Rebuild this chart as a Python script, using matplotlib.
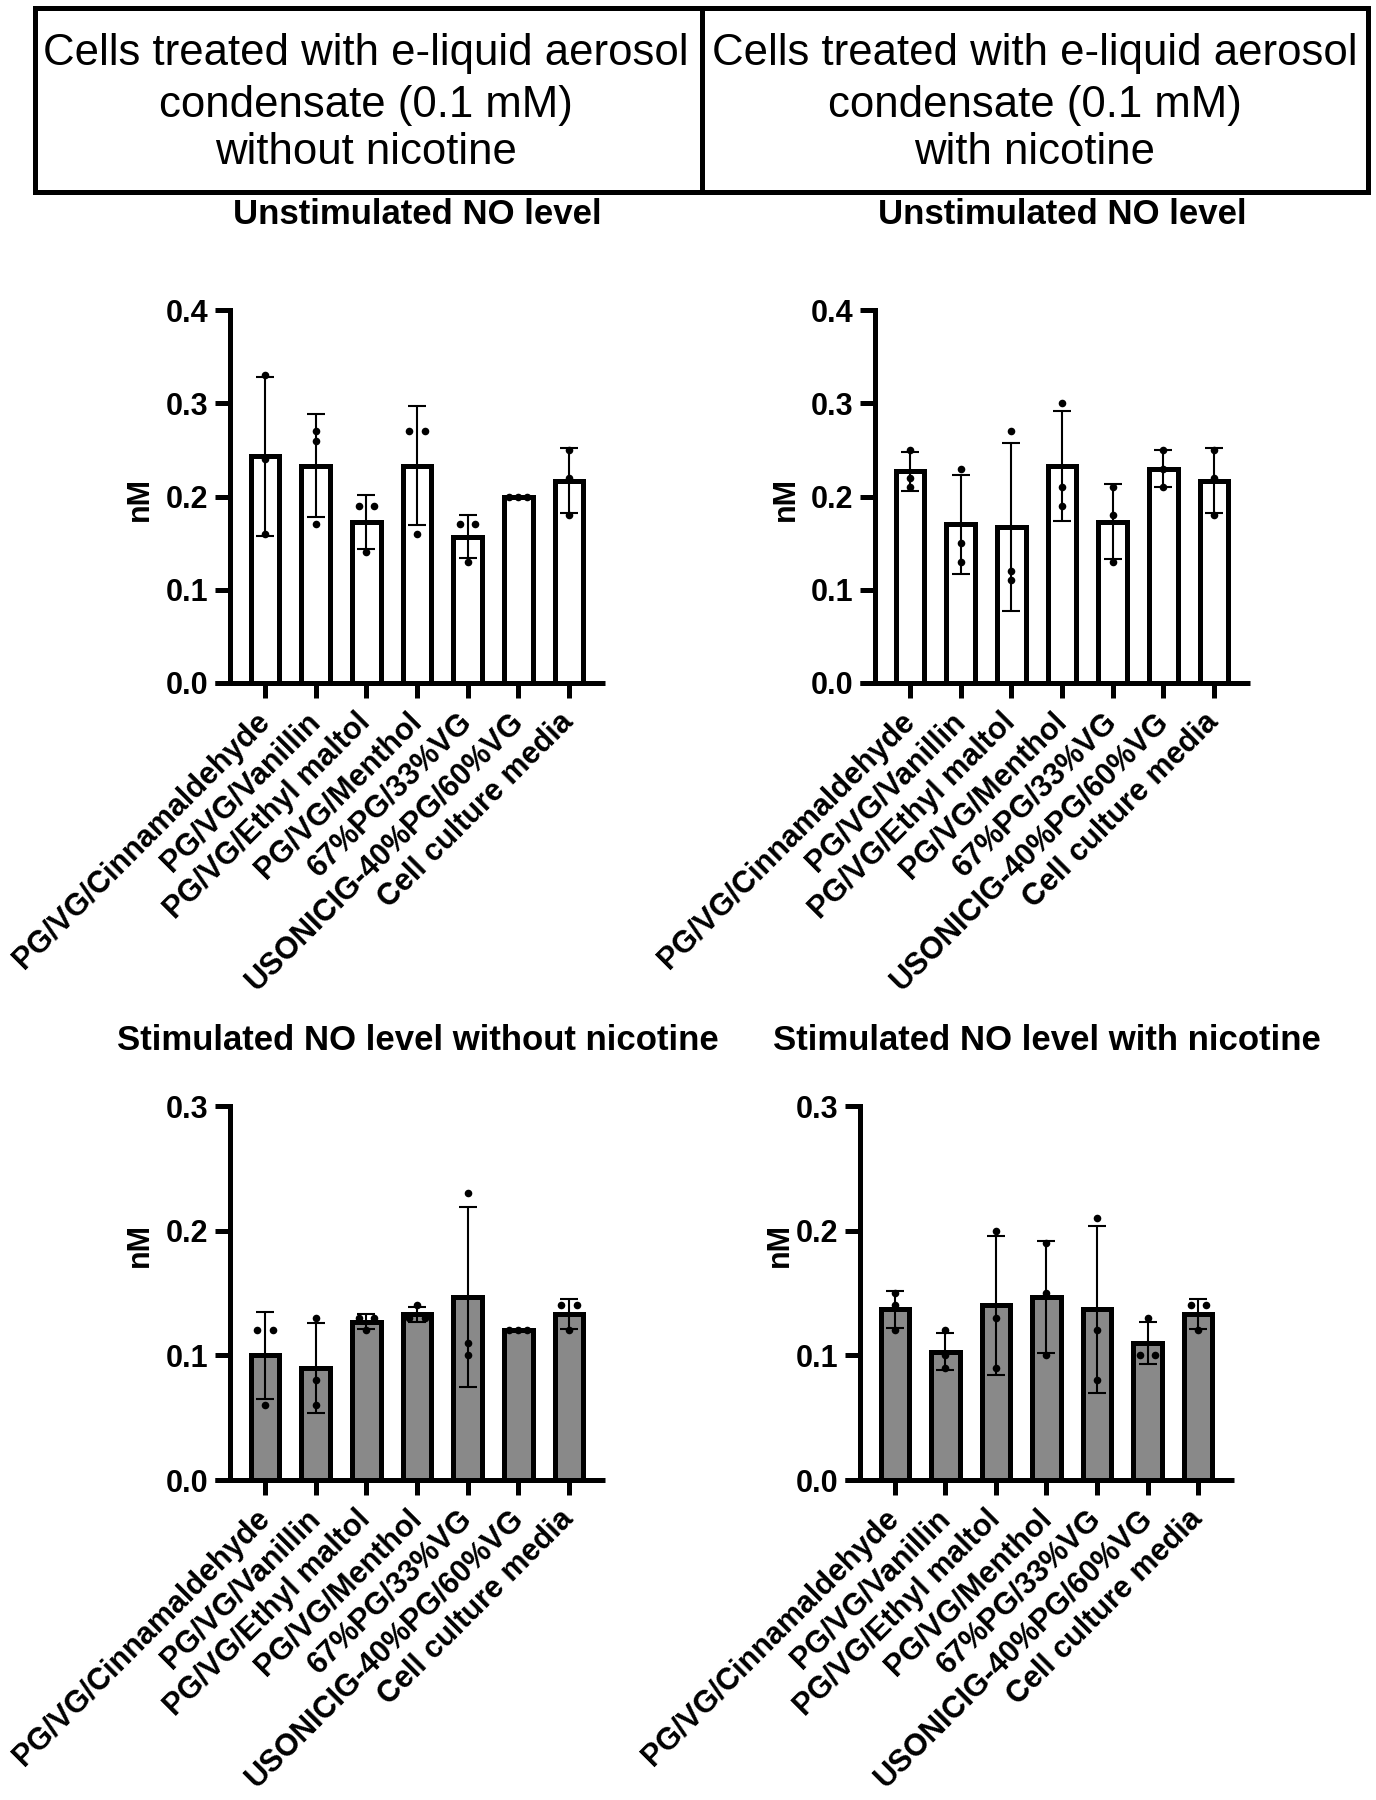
import numpy as np
import matplotlib
matplotlib.use("Agg")
import matplotlib.pyplot as plt
from matplotlib.patches import Rectangle
from matplotlib.lines import Line2D

plt.rcParams['font.family'] = ['Liberation Sans', 'DejaVu Sans']

# ---------------- data ----------------
categories = ["PG/VG/Cinnamaldehyde", "PG/VG/Vanillin", "PG/VG/Ethyl maltol",
              "PG/VG/Menthol", "67%PG/33%VG", "USONICIG-40%PG/60%VG",
              "Cell culture media"]

# Unstimulated NO level, without nicotine
unstim_no_nic_mean = [0.243, 0.233, 0.173, 0.233, 0.157, 0.200, 0.217]
unstim_no_nic_sd = [0.085, 0.055, 0.029, 0.064, 0.023, 0.0, 0.035]
unstim_no_nic_pts = [[0.33, 0.24, 0.16], [0.27, 0.26, 0.17], [0.19, 0.19, 0.14],
                     [0.27, 0.27, 0.16], [0.17, 0.17, 0.13], [0.20, 0.20, 0.20],
                     [0.25, 0.22, 0.18]]

# Unstimulated NO level, with nicotine
unstim_nic_mean = [0.227, 0.170, 0.167, 0.233, 0.173, 0.230, 0.217]
unstim_nic_sd = [0.021, 0.053, 0.090, 0.059, 0.040, 0.020, 0.035]
unstim_nic_pts = [[0.25, 0.22, 0.21], [0.23, 0.15, 0.13], [0.27, 0.12, 0.11],
                  [0.30, 0.21, 0.19], [0.21, 0.18, 0.13], [0.25, 0.23, 0.21],
                  [0.25, 0.22, 0.18]]

# Stimulated NO level, without nicotine
stim_no_nic_mean = [0.100, 0.090, 0.127, 0.133, 0.147, 0.120, 0.133]
stim_no_nic_sd = [0.035, 0.036, 0.006, 0.006, 0.072, 0.0, 0.012]
stim_no_nic_pts = [[0.12, 0.12, 0.06], [0.13, 0.08, 0.06], [0.13, 0.13, 0.12],
                   [0.14, 0.13, 0.13], [0.23, 0.11, 0.10], [0.12, 0.12, 0.12],
                   [0.14, 0.14, 0.12]]

# Stimulated NO level, with nicotine
stim_nic_mean = [0.137, 0.103, 0.140, 0.147, 0.137, 0.110, 0.133]
stim_nic_sd = [0.015, 0.015, 0.056, 0.045, 0.067, 0.017, 0.012]
stim_nic_pts = [[0.15, 0.14, 0.12], [0.12, 0.10, 0.09], [0.20, 0.13, 0.09],
                [0.19, 0.15, 0.10], [0.21, 0.12, 0.08], [0.13, 0.10, 0.10],
                [0.14, 0.14, 0.12]]

header_left = ["Cells treated with e-liquid aerosol", "condensate (0.1 mM)", "without nicotine"]
header_right = ["Cells treated with e-liquid aerosol", "condensate (0.1 mM)", "with nicotine"]

titles = ["Unstimulated NO level", "Unstimulated NO level",
          "Stimulated NO level without nicotine", "Stimulated NO level with nicotine"]

# ---------------- layout helpers ----------------
W, H = 1376, 1800
fig = plt.figure(figsize=(W / 100, H / 100), dpi=100)


def fx(px):
    return px / W


def fy(py):
    return 1 - py / H


LW = 3.6  # main line width in points (~5 px)

# header boxes
box = Rectangle((fx(35), fy(192)), fx(1368) - fx(35), fy(8) - fy(192),
                transform=fig.transFigure, fill=False, lw=LW, edgecolor='black')
fig.add_artist(box)
fig.add_artist(Line2D([fx(702), fx(702)], [fy(192), fy(8)], transform=fig.transFigure,
                      lw=LW, color='black'))
for cx, lines in ((366, header_left), (1035, header_right)):
    for ty, line in zip((54, 105, 153), lines):
        fig.text(fx(cx), fy(ty), line, ha='center', va='center', fontsize=31.5)

panels = [
    dict(rect=(230, 310, 605, 683), xl=(-0.69, 6.71), ylim=0.4, title_y=215,
         ylab=(140, 499), fill='white',
         mean=unstim_no_nic_mean, sd=unstim_no_nic_sd, pts=unstim_no_nic_pts),
    dict(rect=(875, 310, 1250, 683), xl=(-0.69, 6.71), ylim=0.4, title_y=215,
         ylab=(786, 499), fill='white',
         mean=unstim_nic_mean, sd=unstim_nic_sd, pts=unstim_nic_pts),
    dict(rect=(230, 1106, 605, 1480), xl=(-0.69, 6.71), ylim=0.3, title_y=1041,
         ylab=(140, 1245), fill='#898989',
         mean=stim_no_nic_mean, sd=stim_no_nic_sd, pts=stim_no_nic_pts),
    dict(rect=(860, 1106, 1234, 1480), xl=(-0.69, 6.71), ylim=0.3, title_y=1041,
         ylab=(780, 1245), fill='#898989',
         mean=stim_nic_mean, sd=stim_nic_sd, pts=stim_nic_pts),
]

for p, title in zip(panels, titles):
    l, t, r, b = p['rect']
    ax = fig.add_axes([fx(l), fy(b), fx(r) - fx(l), fy(t) - fy(b)])
    x = np.arange(len(categories))
    ax.bar(x, p['mean'], width=0.56, color=p['fill'], edgecolor='black',
           linewidth=LW, zorder=2)
    ax.errorbar(x, p['mean'], yerr=p['sd'], fmt='none', ecolor='black',
                elinewidth=1.5, capsize=6.5, capthick=1.5, zorder=3)
    # scatter points, spreading identical values horizontally
    xs, ys = [], []
    for i, vals in enumerate(p['pts']):
        groups = {}
        for v in vals:
            groups.setdefault(round(v, 3), []).append(v)
        for key, grp in groups.items():
            n = len(grp)
            step = 0.30 if n == 2 else 0.18
            offs = (np.arange(n) - (n - 1) / 2) * step
            for o, v in zip(offs, grp):
                xs.append(i + o)
                ys.append(v)
    ax.scatter(xs, ys, s=30, color='black', zorder=4, linewidths=0)

    ax.set_xlim(*p['xl'])
    ax.set_ylim(0, p['ylim'])
    ticks = np.arange(0, p['ylim'] + 1e-9, 0.1)
    ax.set_yticks(ticks)
    ax.set_yticklabels([f"{v:.1f}" for v in ticks], fontsize=22, fontweight='bold')
    ax.set_xticks(x)
    ax.set_xticklabels(categories, rotation=45, ha='right', va='center',
                       rotation_mode='anchor', fontsize=22, fontweight='bold')
    ax.tick_params(axis='both', direction='out', length=10.8, width=LW, color='black')
    ax.tick_params(axis='y', pad=5)
    ax.tick_params(axis='x', pad=14)
    for s in ('top', 'right'):
        ax.spines[s].set_visible(False)
    ax.spines['left'].set_linewidth(LW)
    ax.spines['bottom'].set_visible(False)
    ext = 15 / (r - l)
    ax.plot([-ext, 1], [0, 0], transform=ax.transAxes, clip_on=False, lw=LW,
            color='black', solid_capstyle='butt', zorder=5)
    ax.patch.set_visible(False)

    fig.text(fx((l + r) / 2), fy(p['title_y']), title, ha='center', va='center',
             fontsize=25, fontweight='bold')
    fig.text(fx(p['ylab'][0]), fy(p['ylab'][1]), "nM", ha='center', va='center',
             rotation=90, fontsize=22, fontweight='bold')

fig.savefig("out.png", dpi=100, facecolor='white')
